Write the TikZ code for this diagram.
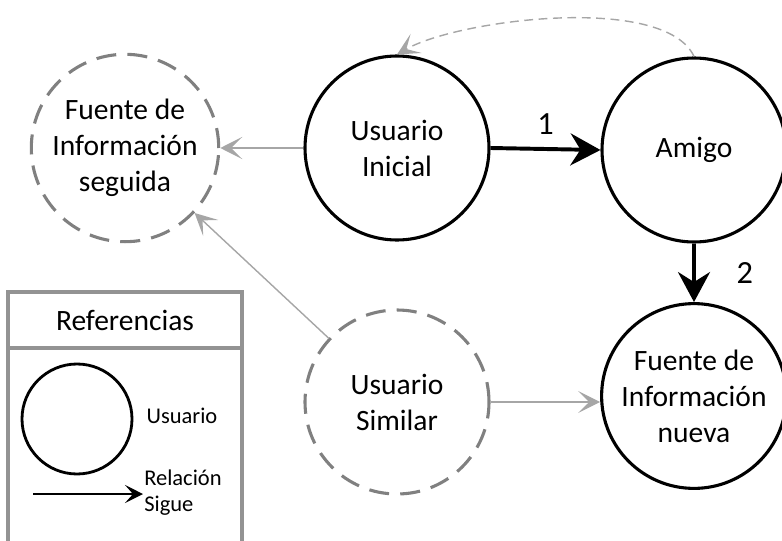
\documentclass[tikz,border=0pt]{standalone}
\usepackage{fontspec}
\setmainfont{Carlito}
\usetikzlibrary{arrows.meta}

\begin{document}
\begin{tikzpicture}[
  usuario/.style={circle, draw=black, line width=2.2pt, minimum size=4.6cm, align=center, font=\fontsize{21}{25.6}\selectfont},
  fuente/.style={usuario, draw=gray, dash pattern=on 0.5cm off 0.28cm},
  sigue/.style={-{Stealth[length=7.5mm,width=8mm,inset=2.5mm]}, line width=2.8pt},
  debil/.style={-{Stealth[length=5.5mm,width=5.5mm,inset=2.8mm]}, draw=gray!70, line width=1pt},
  caja/.style={draw=gray!85, line width=2.2pt}]

	\useasboundingbox (0,0) rectangle (19.55,13.5);

  % usuarios
	\node[fuente] (seguida) at (3.125,9.8) {Fuente de\\Información\\seguida};
	\node[usuario] (inicial) at (9.925,9.8) {Usuario\\Inicial};
	\node[usuario] (amigo) at (17.35,9.75) {Amigo};
	\node[fuente] (similar) at (9.925,3.45) {Usuario\\Similar};
	\node[usuario] (nueva) at (17.35,3.6) {Fuente de\\Información\\nueva};

  % relaciones
	\draw[sigue] (inicial.east) -- (amigo.west) node[midway, above=2mm, font=\fontsize{23}{26}\selectfont] {1};
	\draw[sigue] (amigo.south) -- (nueva.north) node[midway, right=9mm, font=\fontsize{23}{26}\selectfont] {2};
	\draw[debil] (inicial.west) -- (seguida.east);
	\draw[debil] (similar) -- (seguida);
	\draw[debil] (similar.east) -- (nueva.west |- similar.east);
	\draw[debil, dash pattern=on 2.2mm off 1.4mm] (amigo.north) to[out=115, in=30, looseness=0.6] (inicial.north);

  % referencias
	\draw[caja] (0.2,-0.3) -- (0.2,6.2) -- (6.05,6.2) -- (6.05,-0.3);
	\draw[caja] (0.2,4.8) -- (6.05,4.8);
	\node[font=\fontsize{21}{25.6}\selectfont] (titulo) at (3.125,5.5) {Referencias};
	\node[circle, draw=black, line width=2pt, minimum size=2.75cm] (ejemplo) at (1.925,3.025) {};
	\node[font=\fontsize{16}{18.5}\selectfont] (usuarioref) at (4.55,3.1) {Usuario};
	\coordinate (ini) at (0.825,1.15);
	\coordinate (fin) at (3.575,1.15);
	\draw[-{Stealth[length=4.5mm,width=4.5mm,inset=2mm]}, line width=1pt] (ini) -- (fin);
	\node[anchor=west, inner sep=0pt, align=left, font=\fontsize{16}{18.5}\selectfont] (relacion) at (3.6,1.175) {Relación\\Sigue};

\end{tikzpicture}
\end{document}
